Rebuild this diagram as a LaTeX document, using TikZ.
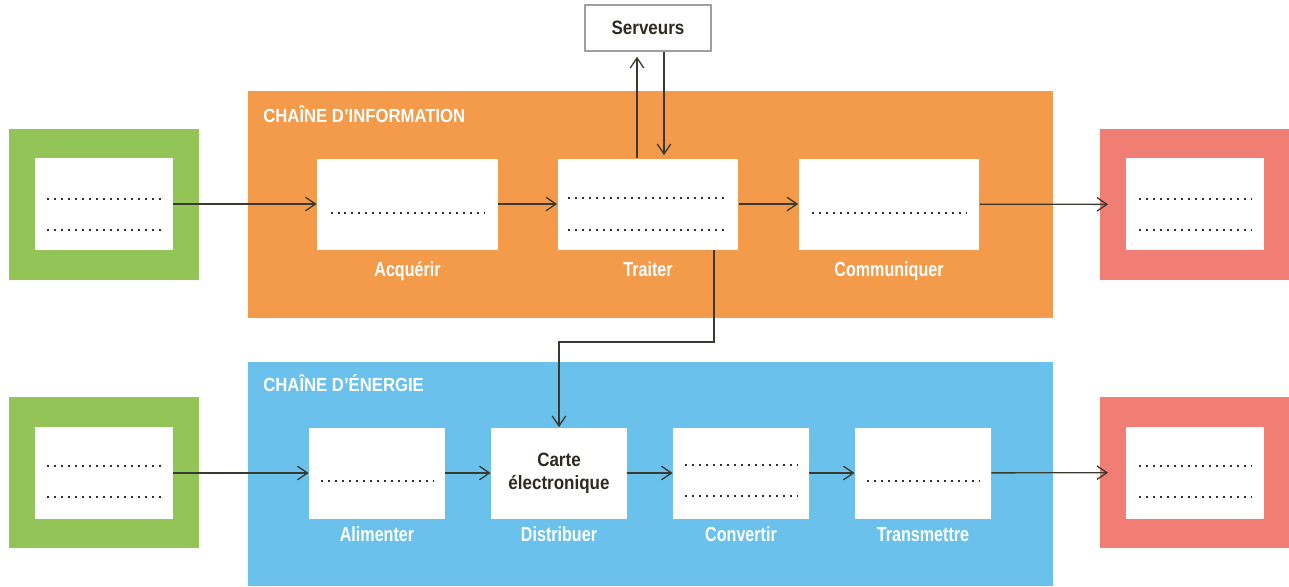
\documentclass[tikz,border=0pt]{standalone}
\usepackage{fontspec}
\setmainfont{Liberation Sans}
\newfontfamily\lblfont{Liberation Sans}[FakeStretch=0.79]
\newfontfamily\hdfont{Liberation Sans}[FakeStretch=0.88]
\usetikzlibrary{arrows.meta,calc}
\definecolor{infobg}{HTML}{F39B4A}
\definecolor{energybg}{HTML}{6AC2EC}
\definecolor{srcgreen}{HTML}{92C457}
\definecolor{sinkred}{HTML}{F07E74}
\definecolor{linecol}{HTML}{3B3A30}
\definecolor{dotcol}{HTML}{2E2E2A}
\definecolor{txtdark}{HTML}{2E2A20}
% a dotted blank line to be filled in: node, half length, vertical offset
\newcommand\fillin[3]{\draw[dots] ($(#1.center)+(-#2,#3)$) -- ++(2*#2,0);}
\begin{document}
\begin{tikzpicture}[x=0.02cm,y=-0.02cm,
  wbox/.style={fill=white, inner sep=0, minimum width=3.62cm, minimum height=1.82cm},
  sbox/.style={fill=white, inner sep=0, minimum width=2.72cm, minimum height=1.82cm},
  outer/.style={inner sep=0, minimum width=3.8cm, minimum height=3.02cm},
  inbox/.style={fill=white, inner sep=0, minimum width=2.76cm, minimum height=1.84cm},
  lbl/.style={text=white, inner sep=0, anchor=base, font=\lblfont\bfseries\fontsize{11.6}{13}\selectfont},
  hd/.style={text=white, inner sep=0, anchor=base west, font=\hdfont\bfseries\fontsize{10.8}{12}\selectfont},
  flow/.style={draw=linecol, line width=0.75pt, -{Straight Barb[length=0.2cm,width=0.27cm]}},
  dots/.style={draw=dotcol, line width=0.045cm, dash pattern=on 0.04cm off 0.1cm}]
\useasboundingbox (0,0) rectangle (1289,586);

% the two chains
\fill[infobg] (248,91) rectangle (1053,318);
\fill[energybg] (248,362) rectangle (1053,586);
\node[hd] (hinfo) at (263,122) {CHAÎNE D’INFORMATION};
\node[hd] (henergy) at (263,391) {CHAÎNE D’ÉNERGIE};

% information chain
\node[outer, fill=srcgreen] (gout1) at (104,204.5) {};
\node[inbox] (gin1) at (104,204) {};
\node[wbox] (acq) at (407.5,204) {};
\node[wbox] (trai) at (648,204) {};
\node[wbox] (comm) at (889,204) {};
\node[outer, fill=sinkred] (rout1) at (1194.5,204.5) {};
\node[inbox] (rin1) at (1195,204) {};
\node[lbl] (lacq) at ($(acq.south)+(0,27)$) {Acquérir};
\node[lbl] (ltrai) at ($(trai.south)+(0,27)$) {Traiter};
\node[lbl] (lcomm) at ($(comm.south)+(0,27)$) {Communiquer};

\node[draw=gray!75, line width=0.03cm, fill=white, minimum width=2.52cm, minimum height=0.92cm,
      text=txtdark, font=\hdfont\bfseries\fontsize{11}{13}\selectfont] (serv) at (648,28) {Serveurs};

% energy chain
\node[outer, fill=srcgreen] (gout2) at (104,472.5) {};
\node[inbox] (gin2) at (104,473) {};
\node[sbox] (alim) at (377,473) {};
\node[sbox, text=txtdark, align=center, font=\hdfont\bfseries\fontsize{11}{13}\selectfont] (carte) at (559,473) {Carte\\électronique};
\node[sbox] (conv) at (741,473) {};
\node[sbox] (trans) at (923,473) {};
\node[outer, fill=sinkred] (rout2) at (1194.5,472.5) {};
\node[inbox] (rin2) at (1195,473) {};
\node[lbl] (lalim) at ($(alim.south)+(0,23)$) {Alimenter};
\node[lbl] (ldist) at ($(carte.south)+(0,23)$) {Distribuer};
\node[lbl] (lconv) at ($(conv.south)+(0,23)$) {Convertir};
\node[lbl] (ltrans) at ($(trans.south)+(0,23)$) {Transmettre};

% blank lines to fill in
\fillin{gin1}{57}{-5}  \fillin{gin1}{57}{26}
\fillin{acq}{77}{9}
\fillin{trai}{80}{-6}  \fillin{trai}{80}{26}
\fillin{comm}{77}{9}
\fillin{rin1}{56}{-5}  \fillin{rin1}{56}{26}
\fillin{gin2}{57}{-7}  \fillin{gin2}{57}{24}
\fillin{alim}{56}{8}
\fillin{conv}{56}{-8}  \fillin{conv}{56}{23}
\fillin{trans}{56}{8}
\fillin{rin2}{56}{-7}  \fillin{rin2}{56}{24}

% connectors
\draw[flow] (gin1) -- (acq);
\draw[flow] (acq) -- (trai);
\draw[flow] (trai) -- (comm);
\draw[flow, shorten >=-0.18cm] (comm) -- (rout1);

\coordinate (upx) at (637,0);
\coordinate (dnx) at (664,0);
\draw[flow, shorten >=0.1cm] (trai.north -| upx) -- (serv.south -| upx);
\draw[flow, shorten >=0.06cm] (serv.south -| dnx) -- (trai.north -| dnx);

\coordinate (tbend) at (714,342);
\draw[flow] (trai.south -| tbend) -- (tbend) -| (carte.north);

\draw[flow] (gin2) -- (alim);
\draw[flow] (alim) -- (carte);
\draw[flow] (carte) -- (conv);
\draw[flow] (conv) -- (trans);
\draw[flow, shorten >=-0.18cm] (trans) -- (rout2);
\end{tikzpicture}
\end{document}
